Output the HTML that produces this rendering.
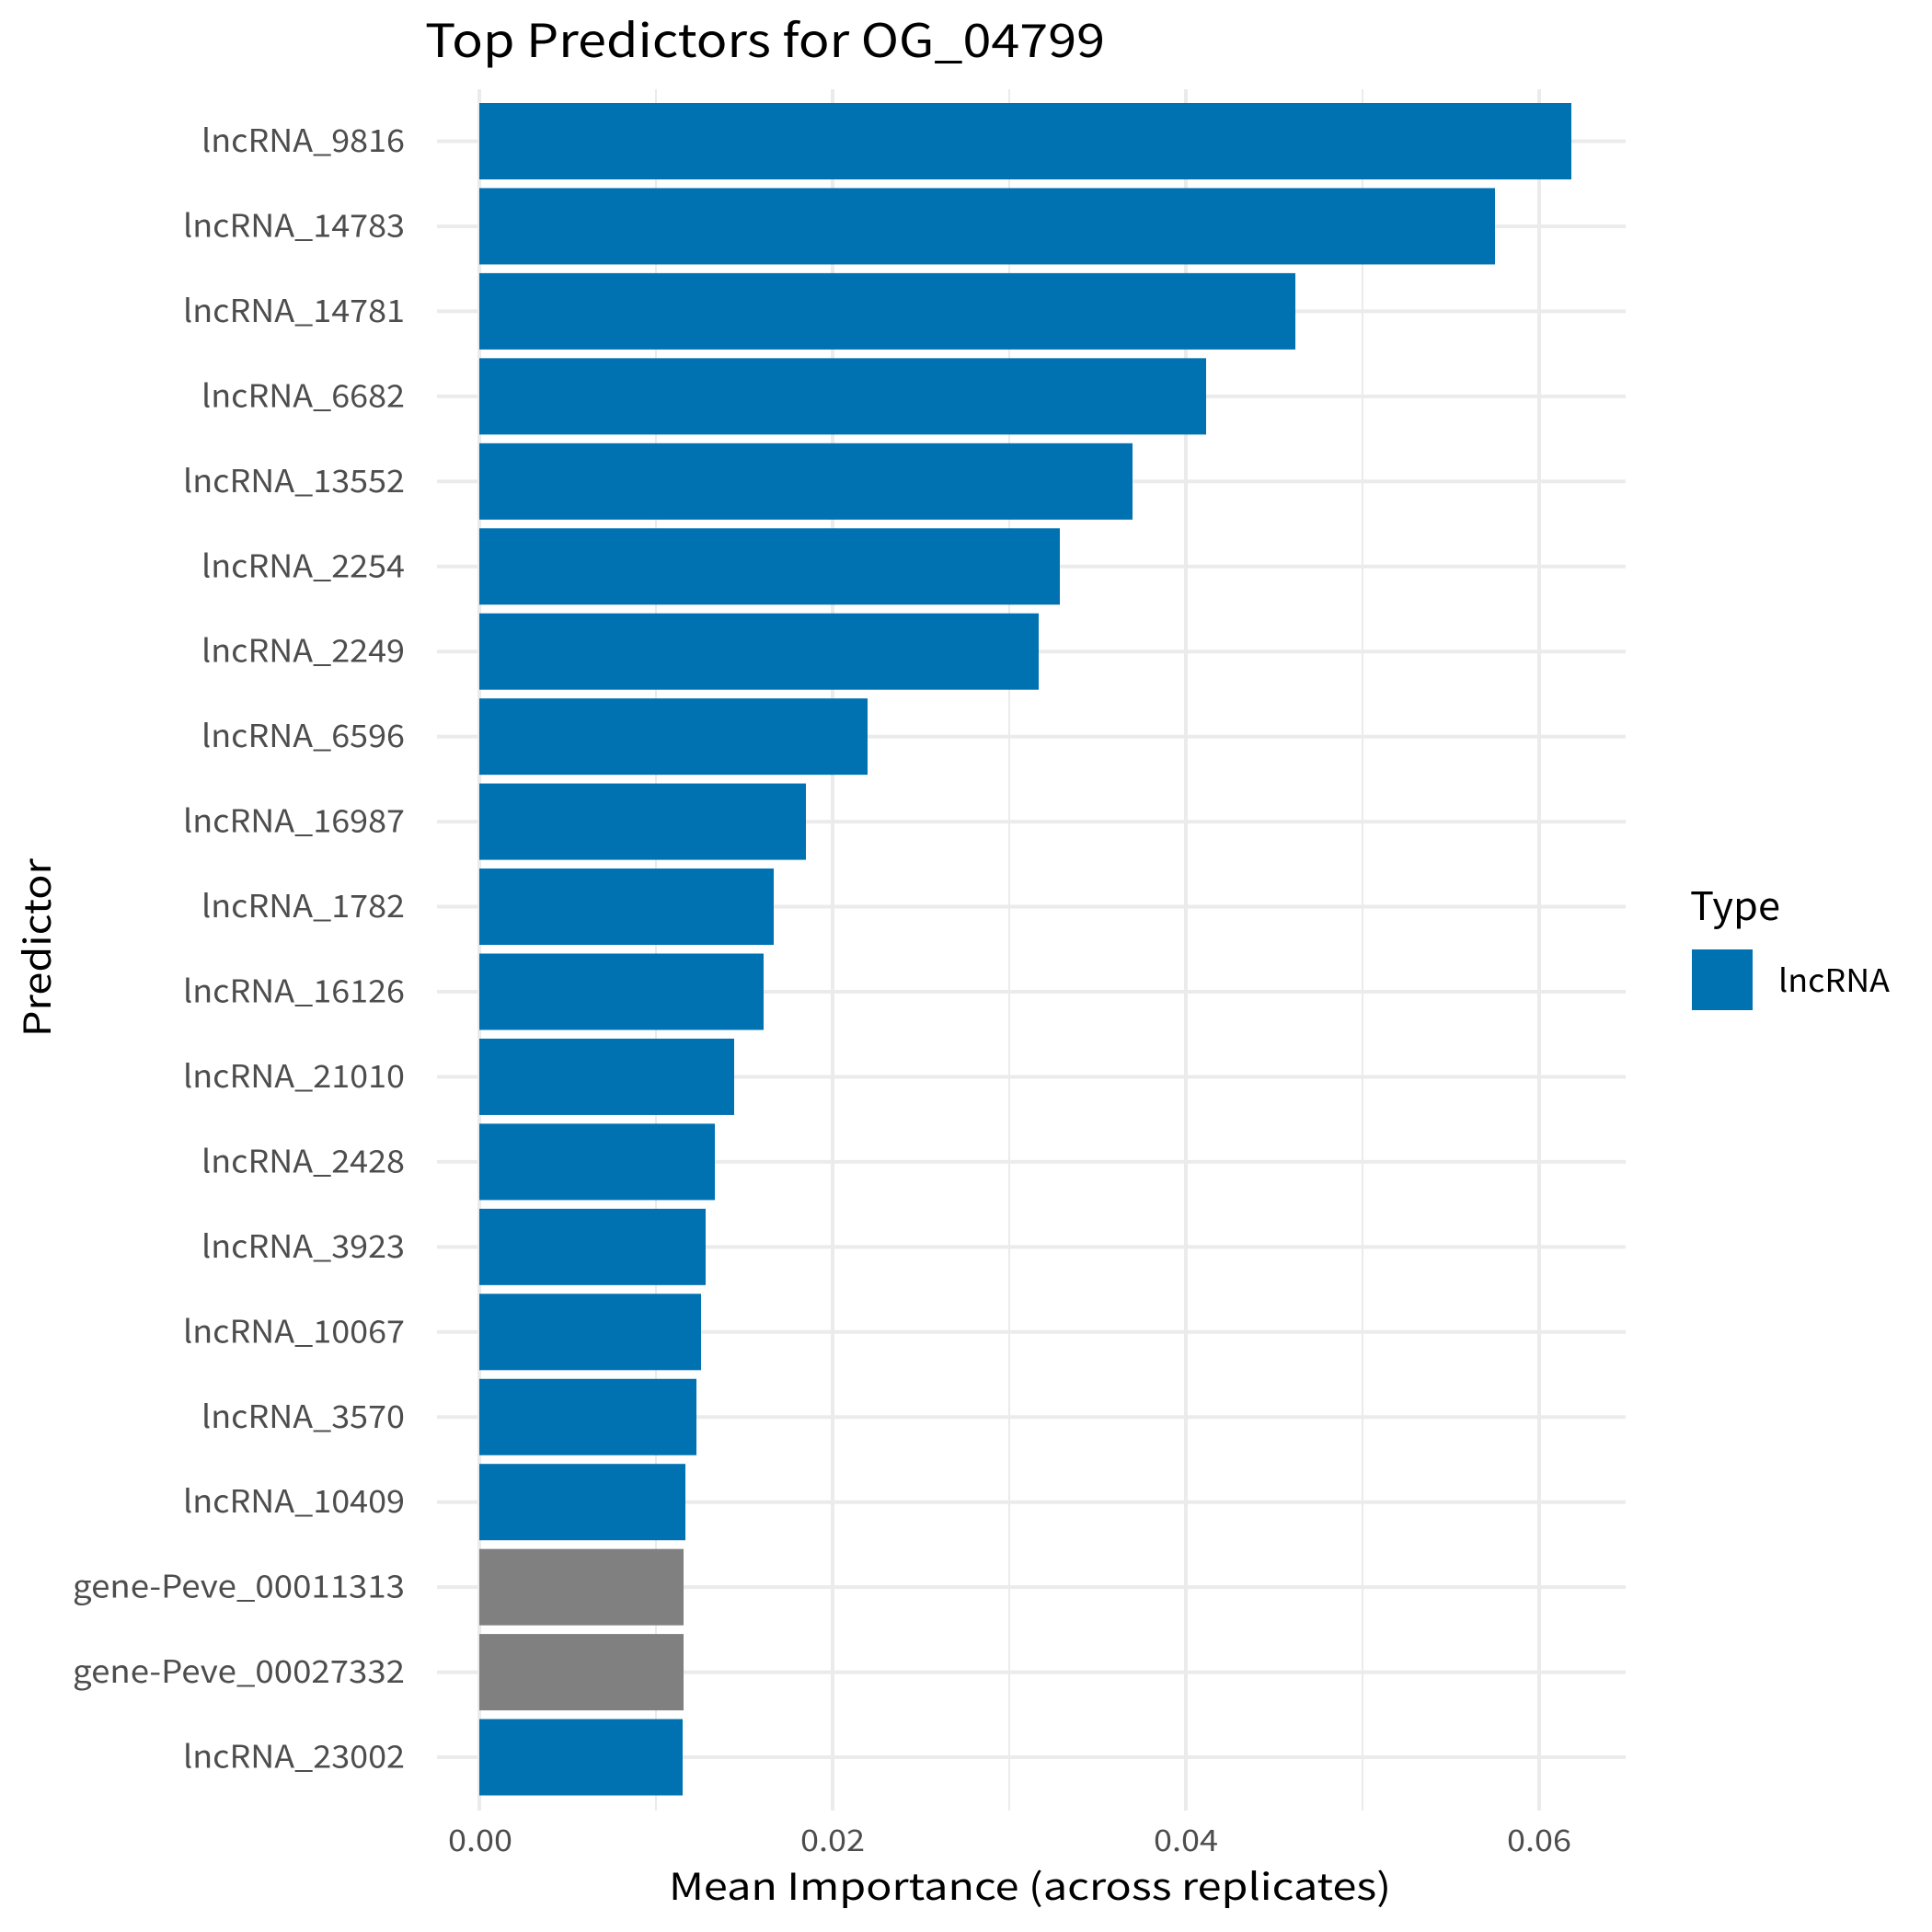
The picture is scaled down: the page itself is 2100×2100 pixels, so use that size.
<!DOCTYPE html>
<html><head><meta charset="utf-8"><style>html,body{margin:0;padding:0;background:#fff}svg{display:block}</style></head>
<body>
<svg width="2100" height="2100" viewBox="0 0 2100 2100" xmlns="http://www.w3.org/2000/svg" font-family="'Noto Sans CJK JP','Liberation Sans',sans-serif">
<rect width="2100" height="2100" fill="#fff"/>
<g stroke="#EBEBEB">
<line x1="713" y1="97" x2="713" y2="1968" stroke-width="2"/>
<line x1="1097" y1="97" x2="1097" y2="1968" stroke-width="2"/>
<line x1="1481" y1="97" x2="1481" y2="1968" stroke-width="2"/>
<line x1="521" y1="97" x2="521" y2="1968" stroke-width="4"/>
<line x1="905" y1="97" x2="905" y2="1968" stroke-width="4"/>
<line x1="1289" y1="97" x2="1289" y2="1968" stroke-width="4"/>
<line x1="1673" y1="97" x2="1673" y2="1968" stroke-width="4"/>
</g>
<g stroke="#EBEBEB" stroke-width="4">
<line x1="475" x2="1767" y1="153.5" y2="153.5"/>
<line x1="475" x2="1767" y1="245.95" y2="245.95"/>
<line x1="475" x2="1767" y1="338.4" y2="338.4"/>
<line x1="475" x2="1767" y1="430.85" y2="430.85"/>
<line x1="475" x2="1767" y1="523.3" y2="523.3"/>
<line x1="475" x2="1767" y1="615.75" y2="615.75"/>
<line x1="475" x2="1767" y1="708.2" y2="708.2"/>
<line x1="475" x2="1767" y1="800.65" y2="800.65"/>
<line x1="475" x2="1767" y1="893.1" y2="893.1"/>
<line x1="475" x2="1767" y1="985.55" y2="985.55"/>
<line x1="475" x2="1767" y1="1078" y2="1078"/>
<line x1="475" x2="1767" y1="1170.45" y2="1170.45"/>
<line x1="475" x2="1767" y1="1262.9" y2="1262.9"/>
<line x1="475" x2="1767" y1="1355.35" y2="1355.35"/>
<line x1="475" x2="1767" y1="1447.8" y2="1447.8"/>
<line x1="475" x2="1767" y1="1540.25" y2="1540.25"/>
<line x1="475" x2="1767" y1="1632.7" y2="1632.7"/>
<line x1="475" x2="1767" y1="1725.15" y2="1725.15"/>
<line x1="475" x2="1767" y1="1817.6" y2="1817.6"/>
<line x1="475" x2="1767" y1="1910.05" y2="1910.05"/>
</g>
<g fill="#0072B2">
<rect x="521" y="112" width="1187" height="83"/>
<rect x="521" y="204.45" width="1104" height="83"/>
<rect x="521" y="296.9" width="887" height="83"/>
<rect x="521" y="389.35" width="790" height="83"/>
<rect x="521" y="481.8" width="710" height="83"/>
<rect x="521" y="574.25" width="631" height="83"/>
<rect x="521" y="666.7" width="608" height="83"/>
<rect x="521" y="759.15" width="422" height="83"/>
<rect x="521" y="851.6" width="355" height="83"/>
<rect x="521" y="944.05" width="320" height="83"/>
<rect x="521" y="1036.5" width="309" height="83"/>
<rect x="521" y="1128.95" width="277" height="83"/>
<rect x="521" y="1221.4" width="256" height="83"/>
<rect x="521" y="1313.85" width="246" height="83"/>
<rect x="521" y="1406.3" width="241" height="83"/>
<rect x="521" y="1498.75" width="236" height="83"/>
<rect x="521" y="1591.2" width="224" height="83"/>
<rect x="521" y="1868.55" width="221" height="83"/>
</g>
<g fill="#808080">
<rect x="521" y="1683.65" width="222" height="83"/>
<rect x="521" y="1776.1" width="222" height="83"/>
</g>
<g font-size="34" fill="#4D4D4D" text-anchor="end" lengthAdjust="spacingAndGlyphs">
<text x="440" y="165" textLength="221" lengthAdjust="spacingAndGlyphs">lncRNA_9816</text>
<text x="440" y="257.45" textLength="241" lengthAdjust="spacingAndGlyphs">lncRNA_14783</text>
<text x="440" y="349.9" textLength="241" lengthAdjust="spacingAndGlyphs">lncRNA_14781</text>
<text x="440" y="442.35" textLength="221" lengthAdjust="spacingAndGlyphs">lncRNA_6682</text>
<text x="440" y="534.8" textLength="241" lengthAdjust="spacingAndGlyphs">lncRNA_13552</text>
<text x="440" y="627.25" textLength="221" lengthAdjust="spacingAndGlyphs">lncRNA_2254</text>
<text x="440" y="719.7" textLength="221" lengthAdjust="spacingAndGlyphs">lncRNA_2249</text>
<text x="440" y="812.15" textLength="221" lengthAdjust="spacingAndGlyphs">lncRNA_6596</text>
<text x="440" y="904.6" textLength="241" lengthAdjust="spacingAndGlyphs">lncRNA_16987</text>
<text x="440" y="997.05" textLength="221" lengthAdjust="spacingAndGlyphs">lncRNA_1782</text>
<text x="440" y="1089.5" textLength="241" lengthAdjust="spacingAndGlyphs">lncRNA_16126</text>
<text x="440" y="1181.95" textLength="241" lengthAdjust="spacingAndGlyphs">lncRNA_21010</text>
<text x="440" y="1274.4" textLength="221" lengthAdjust="spacingAndGlyphs">lncRNA_2428</text>
<text x="440" y="1366.85" textLength="221" lengthAdjust="spacingAndGlyphs">lncRNA_3923</text>
<text x="440" y="1459.3" textLength="241" lengthAdjust="spacingAndGlyphs">lncRNA_10067</text>
<text x="440" y="1551.75" textLength="221" lengthAdjust="spacingAndGlyphs">lncRNA_3570</text>
<text x="440" y="1644.2" textLength="241" lengthAdjust="spacingAndGlyphs">lncRNA_10409</text>
<text x="440" y="1736.65" textLength="361" lengthAdjust="spacingAndGlyphs">gene-Peve_00011313</text>
<text x="440" y="1829.1" textLength="361" lengthAdjust="spacingAndGlyphs">gene-Peve_00027332</text>
<text x="440" y="1921.55" textLength="241" lengthAdjust="spacingAndGlyphs">lncRNA_23002</text>
</g>
<text x="462" y="62" font-size="50" fill="#000" textLength="739" lengthAdjust="spacingAndGlyphs">Top Predictors for OG_04799</text>
<g font-size="32" fill="#4D4D4D">
<text x="487" y="2012" textLength="70" lengthAdjust="spacingAndGlyphs">0.00</text>
<text x="870" y="2012" textLength="70" lengthAdjust="spacingAndGlyphs">0.02</text>
<text x="1254" y="2012" textLength="70" lengthAdjust="spacingAndGlyphs">0.04</text>
<text x="1638" y="2012" textLength="70" lengthAdjust="spacingAndGlyphs">0.06</text>
</g>
<text x="727" y="2065" font-size="40" fill="#000" textLength="785" lengthAdjust="spacingAndGlyphs">Mean Importance (across replicates)</text>
<text transform="translate(55,1127) rotate(-90)" font-size="40" fill="#000" textLength="194" lengthAdjust="spacingAndGlyphs">Predictor</text>
<text x="1837" y="1000" font-size="42" fill="#000" textLength="98" lengthAdjust="spacingAndGlyphs">Type</text>
<rect x="1839" y="1032" width="66" height="66" fill="#0072B2"/>
<text x="1933" y="1078" font-size="34" fill="#000" textLength="121" lengthAdjust="spacingAndGlyphs">lncRNA</text>
</svg>
</body></html>
